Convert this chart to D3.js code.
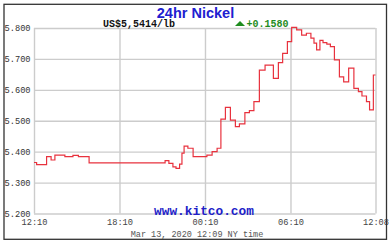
<!DOCTYPE html>
<html>
<head>
<meta charset="utf-8">
<script src="https://cdn.jsdelivr.net/npm/d3@7"></script>
<style>
  body { margin: 0; background: #fff; }
  svg { display: block; }
  .grid line, .grid path { stroke: #cccccc; stroke-width: 1.4; }
  .tick text { font-family: "Liberation Mono", monospace; font-size: 8.7px; fill: #333; }
</style>
</head>
<body>
<div id="chart"></div>
<script>
// 24hr nickel, Mar 12 12:10 -> Mar 13 12:08 NY time
var times = ["12:10","12:21","13:03","13:22","13:38","14:20","14:54","15:17","16:02",
  "21:22","21:38","21:55","22:08","22:23","22:33","22:42","22:58","23:20",
  "00:18","00:40","01:01","01:17","01:36","01:57","02:18","02:35","02:58","03:17","03:36",
  "03:59","04:23","04:58","05:19","05:37","05:57","06:15","06:36","06:57","07:17","07:36",
  "07:49","08:00","08:14","08:27","08:43","08:58","09:15","09:36","09:54","10:15","10:37",
  "10:56","11:11","11:30","11:43","11:59","12:08"];
var prices = [5.365,5.358,5.384,5.373,5.389,5.384,5.388,5.384,5.364,
  5.371,5.362,5.351,5.346,5.360,5.395,5.418,5.411,5.384,
  5.389,5.400,5.411,5.505,5.543,5.502,5.481,5.490,5.526,5.533,5.562,
  5.664,5.680,5.637,5.688,5.718,5.756,5.802,5.794,5.777,5.783,5.767,
  5.751,5.729,5.760,5.753,5.748,5.740,5.697,5.642,5.626,5.670,5.605,
  5.594,5.580,5.562,5.535,5.648,5.648];

var yTicks = [5.2, 5.3, 5.4, 5.5, 5.6, 5.7, 5.8];
var xTickLabels = ["12:10", "18:10", "00:10", "06:10", "12:08"];

var title = "24hr Nickel";
var priceText = "US$5,5414/lb";
var changeText = "+0.1580";
var dateText = "Mar 13, 2020 12:09 NY time";

var W = 392, H = 242;
var plot = {left: 34, right: 375.5, top: 28, bottom: 213.5};

// turn HH:MM strings into dates, rolling over midnight
var toDates = function(list) {
  var day = 12, prev = -1;
  return list.map(function(s) {
    var p = s.split(":"), h = +p[0], m = +p[1];
    if(h * 60 + m < prev) { day++; }
    prev = h * 60 + m;
    return new Date(2020, 2, day, h, m);
  });
};

var dates = toDates(times);
var data = dates.map(function(d, i) { return {t: d, v: prices[i]}; });
var tickDates = toDates(xTickLabels);

var x = d3.scaleTime()
  .domain([dates[0], dates[dates.length - 1]])
  .range([plot.left, plot.right]);

var y = d3.scaleLinear()
  .domain([5.2, 5.8])
  .range([plot.bottom, plot.top]);

var svg = d3.select("#chart").append("svg")
  .attr("width", W)
  .attr("height", H);

svg.append("rect")
  .attr("width", W).attr("height", H)
  .attr("fill", "#fff");

// horizontal grid + y labels
var yAxis = svg.append("g")
  .attr("class", "grid")
  .attr("transform", "translate(" + plot.left + ",0)")
  .call(d3.axisLeft(y)
    .tickValues(yTicks)
    .tickSize(-(plot.right - plot.left))
    .tickFormat(d3.format(".3f")));
yAxis.select(".domain").remove();
yAxis.selectAll(".tick text")
  .attr("x", 4.5 - plot.left)
  .attr("dy", "0.33em")
  .attr("text-anchor", "start");

// vertical grid + x labels
var xAxis = svg.append("g")
  .attr("class", "grid")
  .attr("transform", "translate(0," + plot.bottom + ")")
  .call(d3.axisBottom(x)
    .tickValues(tickDates)
    .tickSize(-(plot.bottom - plot.top))
    .tickFormat(function(d, i) { return xTickLabels[i]; }));
xAxis.select(".domain").remove();
xAxis.selectAll(".tick text")
  .attr("y", 11.5)
  .attr("dy", 0)
  .style("fill", "#444");

// price line
var line = d3.line()
  .x(function(d) { return x(d.t); })
  .y(function(d) { return y(d.v); })
  .curve(d3.curveStepAfter);

svg.append("path")
  .datum(data)
  .attr("fill", "none")
  .attr("stroke", "#e8323e")
  .attr("stroke-width", 1.2)
  .attr("d", line);

// header texts
svg.append("text")
  .attr("x", 195.5).attr("y", 18)
  .attr("text-anchor", "middle")
  .style("font-family", "'Liberation Sans', Arial, sans-serif")
  .style("font-weight", "bold")
  .style("font-size", "14.5px")
  .style("fill", "#2020d0")
  .text(title);

svg.append("text")
  .attr("x", 139).attr("y", 26.5)
  .attr("text-anchor", "middle")
  .style("font-family", "'Liberation Mono', monospace")
  .style("font-weight", "bold")
  .style("font-size", "10px")
  .style("fill", "#111")
  .text(priceText);

svg.append("path")
  .attr("d", "M235,26 L240,21 L245,26 Z")
  .attr("fill", "#1e8c1e");

svg.append("text")
  .attr("x", 246.5).attr("y", 26.5)
  .style("font-family", "'Liberation Mono', monospace")
  .style("font-weight", "bold")
  .style("font-size", "10px")
  .style("fill", "#1e8c1e")
  .text(changeText);

svg.append("text")
  .attr("x", 204).attr("y", 214.5)
  .attr("text-anchor", "middle")
  .style("font-family", "'Liberation Mono', monospace")
  .style("font-weight", "bold")
  .style("font-size", "12.8px")
  .style("fill", "#2020c8")
  .text("www.kitco.com");

svg.append("text")
  .attr("x", 197).attr("y", 236.5)
  .attr("text-anchor", "middle")
  .style("font-family", "'Liberation Mono', monospace")
  .style("font-size", "8.5px")
  .style("fill", "#555")
  .text(dateText);

// outer frame
svg.append("rect")
  .attr("x", 4).attr("y", 4.3)
  .attr("width", 382.5).attr("height", 235)
  .attr("fill", "none")
  .attr("stroke", "#333")
  .attr("stroke-width", 1.3);
</script>
</body>
</html>
